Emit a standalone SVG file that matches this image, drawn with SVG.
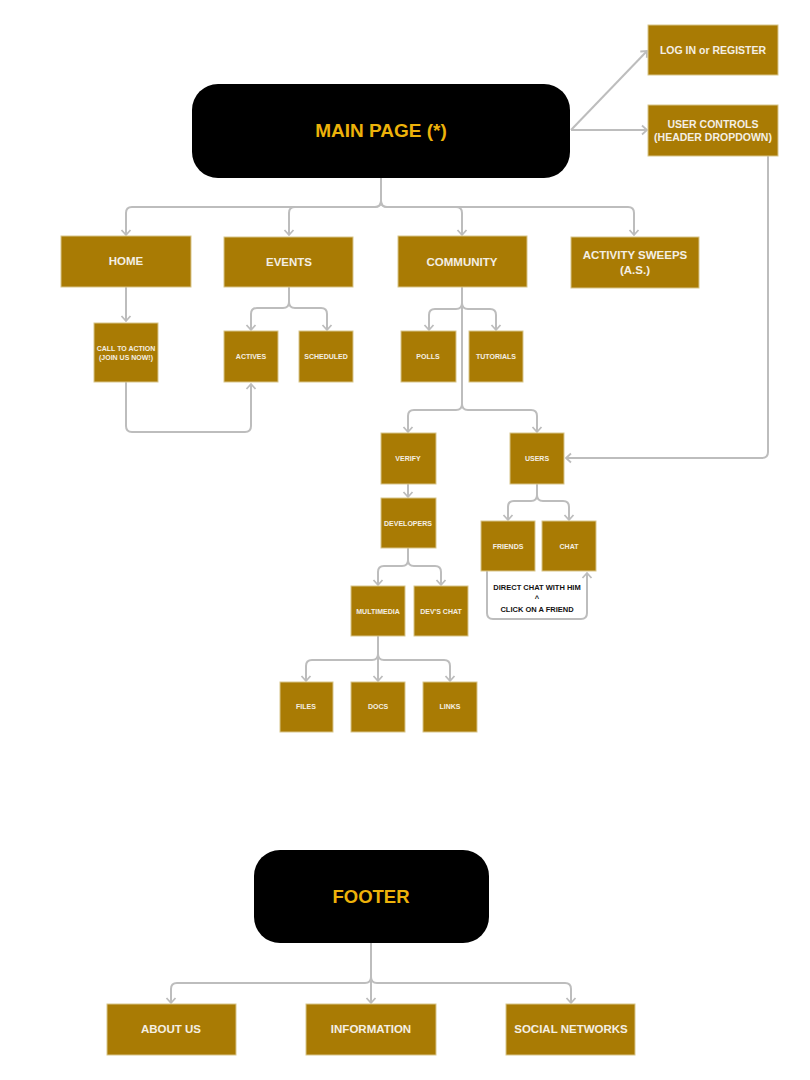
<svg xmlns="http://www.w3.org/2000/svg" width="810" height="1080" viewBox="0 0 810 1080">
<defs>
<marker id="ah" markerUnits="userSpaceOnUse" markerWidth="12" markerHeight="12" viewBox="-6 -6 12 12" orient="auto" refX="0" refY="0">
<path d="M-5,-4.5 L0,0 L-5,4.5" fill="none" stroke="#BDBDBD" stroke-width="1.8"/>
</marker>
</defs>
<style>
.bx{fill:#A97B04;stroke:#D8C58A;stroke-width:1}
.hd{fill:#000}
.t{font-family:"Liberation Sans",Arial,sans-serif;font-weight:bold;fill:#F4EFE4;text-anchor:middle}
.m{font-size:11.5px}
.s{font-size:7px}
.r{font-size:10.5px}
.h{font-family:"Liberation Sans",Arial,sans-serif;font-weight:bold;fill:#EDB20A;text-anchor:middle}
.c{fill:none;stroke:#BDBDBD;stroke-width:2;marker-end:url(#ah)}
.cn{fill:none;stroke:#BDBDBD;stroke-width:2}
.a{font-family:"Liberation Sans",Arial,sans-serif;font-weight:bold;fill:#111;text-anchor:middle;font-size:7.5px}
</style>
<rect width="810" height="1080" fill="#fff"/>
<g id="connectors">
<path class="c" d="M571,130 L647,51"/>
<path class="c" d="M571,130 H647"/>
<path class="c" d="M768,156 V452 Q768,458 762,458 H566"/>
<path class="c" d="M381,178 V201 Q381,207 375,207 H132 Q126,207 126,213 V235"/>
<path class="c" d="M381,178 V201 Q381,207 375,207 H295 Q289,207 289,213 V235"/>
<path class="c" d="M381,178 V201 Q381,207 387,207 H456 Q462,207 462,213 V235"/>
<path class="c" d="M381,178 V201 Q381,207 387,207 H628 Q634,207 634,213 V235"/>
<path class="c" d="M126,287 V321"/>
<path class="c" d="M289,287 V302 Q289,308 283,308 H257 Q251,308 251,314 V330"/>
<path class="c" d="M289,287 V302 Q289,308 295,308 H321 Q327,308 327,314 V330"/>
<path class="c" d="M126,382 V426 Q126,432 132,432 H245 Q251,432 251,426 V384"/>
<path class="c" d="M462,287 V303 Q462,309 456,309 H435 Q429,309 429,315 V330"/>
<path class="c" d="M462,287 V303 Q462,309 468,309 H490 Q496,309 496,315 V330"/>
<path class="c" d="M462,287 V404 Q462,410 456,410 H414 Q408,410 408,416 V432"/>
<path class="c" d="M462,287 V404 Q462,410 468,410 H531 Q537,410 537,416 V432"/>
<path class="c" d="M408,484 V497"/>
<path class="c" d="M408,548 V560 Q408,566 402,566 H384 Q378,566 378,572 V585"/>
<path class="c" d="M408,548 V560 Q408,566 414,566 H435 Q441,566 441,572 V585"/>
<path class="c" d="M378,636 V654 Q378,660 372,660 H312 Q306,660 306,666 V681"/>
<path class="c" d="M378,636 V681"/>
<path class="c" d="M378,636 V654 Q378,660 384,660 H444 Q450,660 450,666 V681"/>
<path class="c" d="M537,484 V495 Q537,501 531,501 H514 Q508,501 508,507 V520"/>
<path class="c" d="M537,484 V495 Q537,501 543,501 H563 Q569,501 569,507 V520"/>
<path class="c" d="M487,571 V613 Q487,619 493,619 H581 Q587,619 587,613 V573"/>
<path class="c" d="M371,943 V977 Q371,983 365,983 H177 Q171,983 171,989 V1003"/>
<path class="c" d="M371,943 V1003"/>
<path class="c" d="M371,943 V977 Q371,983 377,983 H565 Q571,983 571,989 V1003"/>
</g>
<g id="main-page"><rect class="hd" x="192" y="84" width="378" height="94" rx="26"/><text class="h" x="381" y="137" font-size="19">MAIN PAGE (*)</text></g>
<g id="login"><rect class="bx" x="648" y="25" width="130" height="50"/><text class="t r" x="713" y="54">LOG IN or REGISTER</text></g>
<g id="user-controls"><rect class="bx" x="648" y="105" width="130" height="51"/><text class="t r" x="713" y="128">USER CONTROLS</text><text class="t r" x="713" y="141">(HEADER DROPDOWN)</text></g>
<g id="home"><rect class="bx" x="61" y="236" width="130" height="51"/><text class="t m" x="126" y="265">HOME</text></g>
<g id="events"><rect class="bx" x="224" y="237" width="129" height="50"/><text class="t m" x="289" y="266">EVENTS</text></g>
<g id="community"><rect class="bx" x="398" y="236" width="129" height="51"/><text class="t m" x="462" y="266">COMMUNITY</text></g>
<g id="activity-sweeps"><rect class="bx" x="571" y="237" width="128" height="51"/><text class="t m" x="635" y="259">ACTIVITY SWEEPS</text><text class="t m" x="635" y="274">(A.S.)</text></g>
<g id="call-to-action"><rect class="bx" x="94" y="323" width="64" height="59"/><text class="t s" x="126" y="351">CALL TO ACTION</text><text class="t s" x="126" y="360">(JOIN US NOW!)</text></g>
<g id="actives"><rect class="bx" x="224" y="331" width="54" height="51"/><text class="t s" x="251" y="359">ACTIVES</text></g>
<g id="scheduled"><rect class="bx" x="299" y="331" width="54" height="51"/><text class="t s" x="326" y="359">SCHEDULED</text></g>
<g id="polls"><rect class="bx" x="401" y="331" width="55" height="51"/><text class="t s" x="428" y="359">POLLS</text></g>
<g id="tutorials"><rect class="bx" x="469" y="331" width="54" height="51"/><text class="t s" x="496" y="359">TUTORIALS</text></g>
<g id="verify"><rect class="bx" x="381" y="433" width="55" height="51"/><text class="t s" x="408" y="461">VERIFY</text></g>
<g id="users"><rect class="bx" x="510" y="433" width="54" height="51"/><text class="t s" x="537" y="461">USERS</text></g>
<g id="developers"><rect class="bx" x="381" y="498" width="55" height="50"/><text class="t s" x="408" y="526">DEVELOPERS</text></g>
<g id="friends"><rect class="bx" x="481" y="521" width="54" height="50"/><text class="t s" x="508" y="549">FRIENDS</text></g>
<g id="chat"><rect class="bx" x="542" y="521" width="54" height="50"/><text class="t s" x="569" y="549">CHAT</text></g>
<g id="chat-note"><text class="a" x="537" y="590">DIRECT CHAT WITH HIM</text><text class="a" x="537" y="601">^</text><text class="a" x="537" y="612">CLICK ON A FRIEND</text></g>
<g id="multimedia"><rect class="bx" x="351" y="586" width="54" height="50"/><text class="t s" x="378" y="614">MULTIMEDIA</text></g>
<g id="devs-chat"><rect class="bx" x="414" y="586" width="54" height="50"/><text class="t s" x="441" y="614">DEV'S CHAT</text></g>
<g id="files"><rect class="bx" x="280" y="682" width="53" height="50"/><text class="t s" x="306" y="709">FILES</text></g>
<g id="docs"><rect class="bx" x="351" y="682" width="54" height="50"/><text class="t s" x="378" y="709">DOCS</text></g>
<g id="links"><rect class="bx" x="423" y="682" width="54" height="50"/><text class="t s" x="450" y="709">LINKS</text></g>
<g id="footer"><rect class="hd" x="254" y="850" width="235" height="93" rx="26"/><text class="h" x="371" y="903" font-size="18.5">FOOTER</text></g>
<g id="about-us"><rect class="bx" x="107" y="1004" width="129" height="51"/><text class="t m" x="171" y="1033">ABOUT US</text></g>
<g id="information"><rect class="bx" x="306" y="1004" width="130" height="51"/><text class="t m" x="371" y="1033">INFORMATION</text></g>
<g id="social-networks"><rect class="bx" x="506" y="1004" width="129" height="51"/><text class="t m" x="571" y="1033">SOCIAL NETWORKS</text></g>
</svg>
